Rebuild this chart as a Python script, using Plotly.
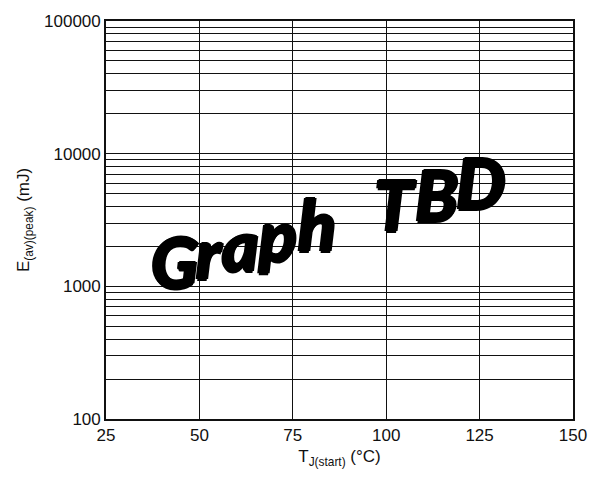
import plotly.graph_objects as go

# Axis definitions
temp_ticks = [25, 50, 75, 100, 125, 150]          # T_J(start) in °C
energy_ticks = [100, 1000, 10000, 100000]         # E(av)(peak) in mJ
energy_labels = ["100", "1000", "10000", "100000"]

# Placeholder watermark, one glyph at a time along a rising baseline
stamp_letters = ["G", "r", "a", "p", "h", "T", "B", "D"]
stamp_x_px = [174, 209, 240, 277, 317, 395, 436, 481]

# Plot area in pixels
L, R, T, B = 106, 573, 14, 419
W, H = 601, 481

fig = go.Figure()
fig.add_trace(go.Scatter(x=[temp_ticks[0], temp_ticks[-1]],
                         y=[energy_ticks[0], energy_ticks[-1]],
                         mode="markers", marker=dict(opacity=0),
                         hoverinfo="skip", showlegend=False))

axis_font = dict(family="Liberation Sans, Arial, sans-serif", size=17, color="#111")
line_col = "#111"

fig.update_xaxes(range=[temp_ticks[0], temp_ticks[-1]], tickvals=temp_ticks,
                 showgrid=True, gridcolor=line_col, gridwidth=1.4,
                 showline=True, linecolor=line_col, linewidth=1.7, mirror=True,
                 ticks="", zeroline=False, tickfont=axis_font,
                 title=dict(text="T<sub>J(start)</sub> (°C)", font=axis_font, standoff=6))
fig.update_yaxes(type="log", range=[2, 5], tickvals=energy_ticks, ticktext=energy_labels,
                 showgrid=True, gridcolor=line_col, gridwidth=1.4,
                 minor=dict(dtick="D1", showgrid=True, gridcolor=line_col, gridwidth=1.4, ticks=""),
                 showline=True, linecolor=line_col, linewidth=1.7, mirror=True,
                 ticks="", zeroline=False, tickfont=axis_font,
                 title=dict(text="E<sub>(av)(peak)</sub> (mJ)", font=axis_font, standoff=10))

# Letters sit on a baseline that climbs to the right; a tight shadow fattens the strokes
SIZE = 70
heavy = "1.5px 0 0 black, -1.5px 0 0 black, 0 1.5px 0 black, 0 -1.5px 0 black"
for ch, px in zip(stamp_letters, stamp_x_px):
    base = 286 - 0.26 * (px - 173)
    py = base - 0.4 * SIZE
    fig.add_annotation(text=ch, xref="paper", yref="paper",
                       x=(px - L) / (R - L), y=(B - py) / (B - T),
                       xanchor="center", yanchor="middle", showarrow=False,
                       font=dict(family="Lato, DejaVu Sans, sans-serif",
                                 size=SIZE, color="black", weight=900, style="italic",
                                 shadow=heavy))

fig.update_layout(width=W, height=H, margin=dict(l=L, r=W - R, t=T, b=H - B),
                  plot_bgcolor="white", paper_bgcolor="white", showlegend=False)

fig.write_html("out.html")
